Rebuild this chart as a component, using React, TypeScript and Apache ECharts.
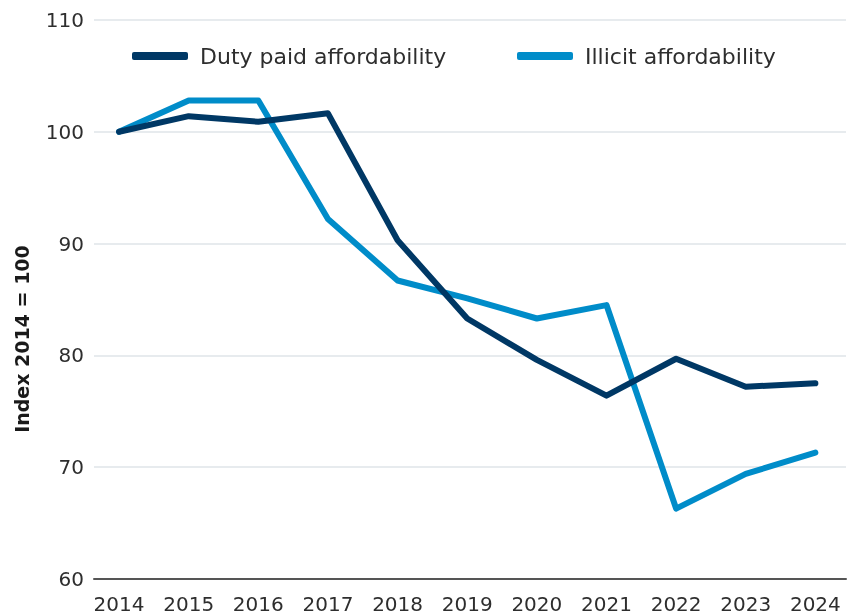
import React, { useEffect, useRef } from "react";
import * as echarts from "echarts";

const years = [2014, 2015, 2016, 2017, 2018, 2019, 2020, 2021, 2022, 2023, 2024];
const dutyPaid = [100, 101.4, 100.9, 101.65, 90.3, 83.3, 79.6, 76.4, 79.7, 77.2, 77.5];
const illicit = [100, 102.8, 102.8, 92.2, 86.7, 85.1, 83.3, 84.5, 66.3, 69.4, 71.3];
const seriesNames = ["Duty paid affordability", "Illicit affordability"];
const yTicks = { min: 60, max: 110, interval: 10 };
const yAxisTitle = "Index 2014 = 100";

const FONT = "DejaVu Sans";
const TEXT = "#2e2e2e";
const DUTY = "#003865";
const ILLICIT = "#008cc9";

export default function App() {
  const ref = useRef<HTMLDivElement>(null);
  useEffect(() => {
    if (!ref.current) return;
    document.body.style.margin = "0";
    document.body.style.overflow = "hidden";
    const chart = echarts.init(ref.current, null, { renderer: "svg" });
    const toPairs = (vals: number[]) => years.map((y, i) => [y, vals[i]]);
    const legendBase = {
      top: 40,
      itemWidth: 56,
      itemHeight: 8,
      icon: "roundRect",
      textStyle: { fontFamily: FONT, fontSize: 22, color: TEXT, padding: [0, 0, 0, 7] },
    };
    chart.setOption({
      animation: false,
      textStyle: { fontFamily: FONT },
      grid: { left: 94, right: 7, top: 20, bottom: 36, containLabel: false },
      legend: [
        { ...legendBase, left: 127, data: [seriesNames[0]] },
        { ...legendBase, left: 512, data: [seriesNames[1]] },
      ],
      xAxis: {
        type: "value",
        min: 2013.64,
        max: 2024.44,
        axisLine: { show: true, onZero: false, lineStyle: { color: "#555", width: 2 } },
        axisTick: { show: false },
        splitLine: { show: false },
        axisLabel: {
          customValues: years,
          formatter: (v: number) => String(Math.round(v)),
          fontFamily: FONT,
          fontSize: 20,
          color: TEXT,
          margin: 15,
        },
      },
      yAxis: {
        type: "value",
        min: yTicks.min,
        max: yTicks.max,
        interval: yTicks.interval,
        axisLine: { show: false },
        axisTick: { show: false },
        splitLine: { lineStyle: { color: "#dfe4e8", width: 1.5 } },
        axisLabel: { fontFamily: FONT, fontSize: 20, color: TEXT, margin: 10 },
      },
      graphic: [
        {
          type: "text",
          x: 22,
          y: 339,
          rotation: Math.PI / 2,
          style: {
            text: yAxisTitle,
            fontFamily: FONT,
            fontSize: 19,
            fontWeight: "bold",
            fill: "#1a1a1a",
            align: "center",
            verticalAlign: "middle",
          },
        },
      ],
      series: [
        {
          name: seriesNames[0],
          type: "line",
          data: toPairs(dutyPaid),
          showSymbol: false,
          symbol: "none",
          lineStyle: { color: DUTY, width: 6, cap: "round", join: "round" },
          itemStyle: { color: DUTY },
          z: 3,
        },
        {
          name: seriesNames[1],
          type: "line",
          data: toPairs(illicit),
          showSymbol: false,
          symbol: "none",
          lineStyle: { color: ILLICIT, width: 6, cap: "round", join: "round" },
          itemStyle: { color: ILLICIT },
          z: 2,
        },
      ],
    });
    return () => chart.dispose();
  }, []);
  return (
    <div
      ref={ref}
      style={{ position: "fixed", left: 0, top: 0, width: 853, height: 615 }}
    />
  );
}
